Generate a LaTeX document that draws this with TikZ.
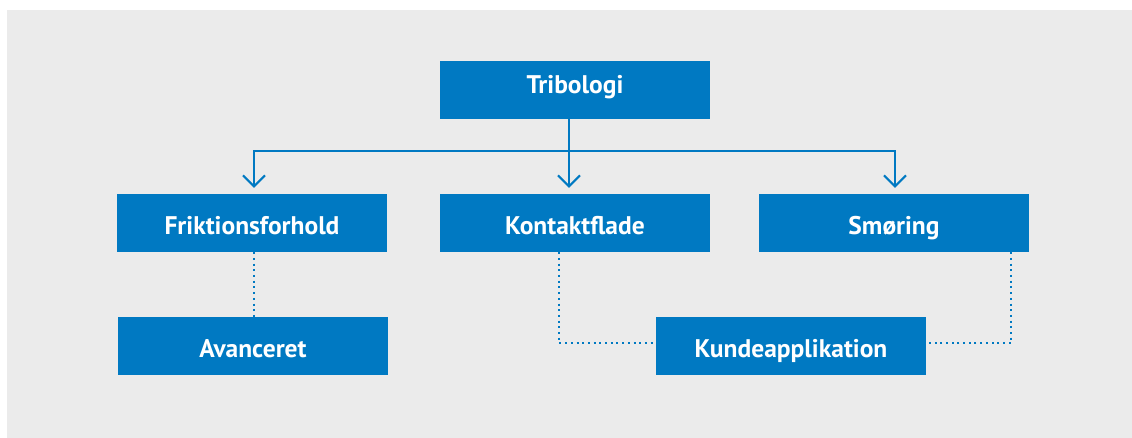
\documentclass[tikz,border=0pt]{standalone}
\usepackage{fontspec}
\setmainfont{PT Sans}
\usetikzlibrary{arrows.meta}
\definecolor{boxblue}{HTML}{0079C2}
\definecolor{bggray}{HTML}{EBEBEB}
\begin{document}
\begin{tikzpicture}[x=1pt,y=-1pt]
		\tikzset{box/.style={shape = rectangle, fill = boxblue, text = white, minimum width = 270pt, minimum height = 58pt,
				inner sep = 0pt, text height = 23pt, text depth = 0pt, font = \fontsize{25.5}{30}\selectfont\bfseries}}
		\tikzset{edge/.style={-{Straight Barb[length = 11pt, width = 22pt, line width = 2pt]}, draw = boxblue, line width = 2pt, shorten > = 6pt}}
		\tikzset{dots/.style={draw = boxblue, line width = 2pt, dash pattern = on 2pt off 3.7pt}}
		%background
		\useasboundingbox (0,0) rectangle (1132,438);
		\fill[bggray] (7,10) rectangle (1132,438);
		%vertices
		\node[box, text height = 8pt] (tribologi) at (575, 90) {Tribologi};
		\node[box] (friktion) at (252, 223) {Friktionsforhold};
		\node[box] (kontakt) at (575, 223) {Kontaktflade};
		\node[box] (smoering) at (894, 223) {Smøring};
		\node[box] (avanceret) at (253, 346) {Avanceret};
		\node[box] (kunde) at (791, 346) {Kundeapplikation};
		\coordinate (bus) at (569, 151);
		%edges
		\draw[edge] ([xshift=-6pt]tribologi.south) -- ([xshift=-6pt]kontakt.north);
		\draw[edge] (bus) -| ([xshift=2pt]friktion.north);
		\draw[edge] (bus) -| ([xshift=1pt]smoering.north);
		\draw[dots] ([xshift=2pt]friktion.south) -- ([xshift=1pt]avanceret.north);
		\draw[dots] ([xshift=-16pt]kontakt.south) |- ([yshift=3pt]kunde.west);
		\draw[dots] ([xshift=117pt]smoering.south) |- ([yshift=3pt]kunde.east);
\end{tikzpicture}
\end{document}
